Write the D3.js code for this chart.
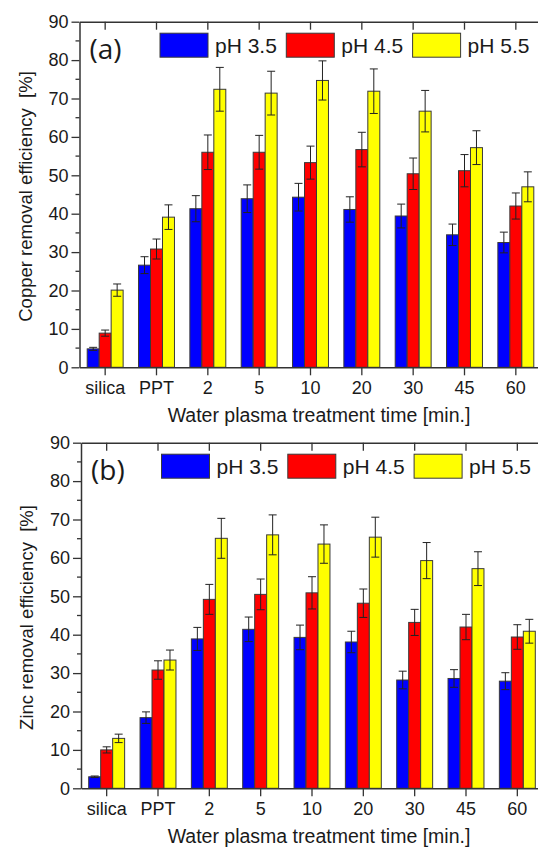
<!DOCTYPE html>
<html>
<head>
<meta charset="utf-8">
<script src="https://cdn.jsdelivr.net/npm/d3@7"></script>
<style>
  html, body { margin: 0; padding: 0; background: #fff; overflow: hidden; }
  svg { display: block; }
  text { font-family: "Liberation Sans", Arial, sans-serif; fill: #1a1a1a; }
</style>
</head>
<body>
<svg id="chart" width="538" height="848"></svg>
<script>
// ---- data ----
const categories = ["silica", "PPT", "2", "5", "10", "20", "30", "45", "60"];
const seriesNames = ["pH 3.5", "pH 4.5", "pH 5.5"];
const seriesColors = ["#0000ff", "#ff0000", "#ffff00"];
const yTicks = [0, 10, 20, 30, 40, 50, 60, 70, 80, 90];

// Panel (a) copper
const copperPH35 = [4.8, 26.6, 41.3, 43.9, 44.3, 41.1, 39.4, 34.5, 32.5];
const copperPH45 = [8.9, 30.8, 56.0, 56.0, 53.3, 56.7, 50.4, 51.2, 42.0];
const copperPH55 = [20.1, 39.1, 72.4, 71.4, 74.7, 71.9, 66.7, 57.2, 47.0];
const copperErr35 = [0.4, 2.2, 3.4, 3.6, 3.6, 3.3, 3.1, 2.8, 2.7];
const copperErr45 = [0.8, 2.6, 4.5, 4.4, 4.3, 4.5, 4.1, 4.2, 3.4];
const copperErr55 = [1.6, 3.2, 5.7, 5.7, 5.1, 5.8, 5.4, 4.4, 3.9];

// Panel (b) zinc
const zincPH35 = [3.0, 18.4, 38.9, 41.4, 39.3, 38.1, 28.2, 28.6, 27.9];
const zincPH45 = [10.0, 30.8, 49.2, 50.5, 50.9, 48.2, 43.2, 42.0, 39.4];
const zincPH55 = [13.0, 33.4, 65.1, 66.0, 63.6, 65.4, 59.3, 57.2, 40.9];
const zincErr35 = [0.2, 1.5, 3.0, 3.2, 3.2, 2.8, 2.3, 2.3, 2.2];
const zincErr45 = [0.8, 2.4, 3.9, 4.0, 4.2, 3.7, 3.4, 3.3, 3.2];
const zincErr55 = [1.1, 2.6, 5.2, 5.2, 5.0, 5.2, 4.7, 4.4, 3.1];

const svg = d3.select("#chart");

function drawPanel(cfg) {
  const g = svg.append("g");
  const x = d3.scaleBand().domain(categories)
    .range([cfg.left, cfg.right]).paddingInner(0.3).paddingOuter(0.15);
  const xs = d3.scaleBand().domain(seriesNames).range([0, x.bandwidth()]);
  const y = d3.scaleLinear().domain([0, 90]).range([cfg.bottom, cfg.top]);

  const rows = [];
  cfg.values.forEach((vals, si) => {
    vals.forEach((v, ci) => rows.push({ cat: categories[ci], s: si, v: v, e: cfg.errs[si][ci] }));
  });

  g.append("g").selectAll("rect").data(rows).join("rect")
    .attr("x", d => x(d.cat) + xs(seriesNames[d.s]))
    .attr("y", d => y(d.v))
    .attr("width", xs.bandwidth())
    .attr("height", d => y(0) - y(d.v))
    .attr("fill", d => seriesColors[d.s])
    .attr("stroke", "#3a3a3a")
    .attr("stroke-width", 1);

  const eg = g.append("g").attr("stroke", "#222").attr("stroke-width", 1).attr("fill", "none");
  const cx = d => x(d.cat) + xs(seriesNames[d.s]) + xs.bandwidth() / 2;
  eg.selectAll("path").data(rows).join("path")
    .attr("d", d => {
      const c = cx(d), t = y(d.v + d.e), b = y(d.v - d.e), w = 4;
      return `M${c},${t}V${b}M${c - w},${t}H${c + w}M${c - w},${b}H${c + w}`;
    });

  const axisColor = "#333";
  const left = g.append("g").attr("transform", `translate(${cfg.left},0)`)
    .call(d3.axisLeft(y).tickValues(yTicks).tickSize(8).tickPadding(3).tickSizeOuter(0));
  left.selectAll("text").style("font-size", "18px");
  left.selectAll(".minor").data(d3.range(5, 90, 10)).join("line")
    .attr("class", "minor").attr("x1", -4).attr("x2", 0)
    .attr("y1", d => y(d)).attr("y2", d => y(d));

  const bottom = g.append("g").attr("transform", `translate(0,${cfg.bottom})`)
    .call(d3.axisBottom(x).tickSize(8).tickPadding(6).tickSizeOuter(0));
  bottom.selectAll("text").style("font-size", "18px");

  const topAx = g.append("g").attr("transform", `translate(0,${cfg.top})`)
    .call(d3.axisBottom(x).tickSize(8).tickFormat("").tickSizeOuter(0));

  [left, bottom, topAx].forEach(a => {
    a.select(".domain").attr("stroke", axisColor).attr("stroke-width", 1.5);
    a.selectAll("line").attr("stroke", axisColor).attr("stroke-width", 1.3);
  });

  g.append("text")
    .attr("transform", `translate(${cfg.left - 48},${(cfg.top + cfg.bottom) / 2 + 2}) rotate(-90)`)
    .attr("text-anchor", "middle")
    .style("font-size", "18.5px")
    .text(cfg.yTitle);

  g.append("text")
    .attr("x", 319).attr("y", cfg.bottom + 54.5)
    .attr("text-anchor", "middle")
    .style("font-size", "19.5px")
    .text("Water plasma treatment time [min.]");

  g.append("text")
    .attr("x", cfg.left + 10).attr("y", cfg.top + 37)
    .style("font-family", "'Open Sans', sans-serif")
    .style("font-size", "28px")
    .text(cfg.label);

  const lg = g.append("g").attr("transform", `translate(${cfg.left + 80.5},${cfg.top + 11.5})`);
  seriesNames.forEach((n, i) => {
    const it = lg.append("g").attr("transform", `translate(${i * 126.3},0)`);
    it.append("rect").attr("width", 48).attr("height", 24)
      .attr("fill", seriesColors[i]).attr("stroke", "#3a3a3a").attr("stroke-width", 1);
    it.append("text").attr("x", 55).attr("y", 19.5)
      .style("font-size", "21px").text(n);
  });
}

drawPanel({
  left: 79.5, right: 541.5, top: 21.7, bottom: 367.3,
  values: [copperPH35, copperPH45, copperPH55],
  errs: [copperErr35, copperErr45, copperErr55],
  yTitle: "Copper removal efficiency\u00a0\u00a0[%]",
  label: "(a)"
});

drawPanel({
  left: 81, right: 543, top: 442.7, bottom: 788.3,
  values: [zincPH35, zincPH45, zincPH55],
  errs: [zincErr35, zincErr45, zincErr55],
  yTitle: "Zinc removal efficiency\u00a0\u00a0[%]",
  label: "(b)"
});
</script>
</body>
</html>
